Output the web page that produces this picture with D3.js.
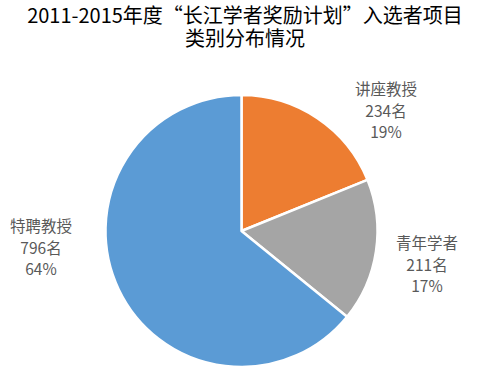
<!DOCTYPE html>
<html lang="zh-CN">
<head>
<meta charset="utf-8">
<script src="https://cdn.jsdelivr.net/npm/d3@7"></script>
<style>
  body { margin: 0; background: #fff; }
  svg { display: block; }
</style>
</head>
<body>
<script>
const titleLines = ['2011-2015年度“长江学者奖励计划”入选者项目', '类别分布情况'];
const categories = ['讲座教授', '青年学者', '特聘教授'];
const counts = [234, 211, 796];
const percents = ['19%', '17%', '64%'];
const colors = ['#ED7D31', '#A5A5A5', '#5B9BD5'];

const width = 489, height = 374;
const cx = 241.5, cy = 231, radius = 136;

// where each data label sits (centre of the 3-line block)
const labelPos = { '讲座教授': [386, 111], '青年学者': [427, 265], '特聘教授': [41, 248] };

const svg = d3.select('body')
  .append('svg')
  .attr('width', width)
  .attr('height', height);

svg.selectAll('.title')
  .data(titleLines)
  .enter()
  .append('text')
  .attr('class', 'title')
  .attr('x', 245)
  .attr('y', (d, i) => 23 + i * 22.5)
  .attr('text-anchor', 'middle')
  .style('font-family', '"Noto Sans CJK SC", sans-serif')
  .style('font-size', '20px')
  .style('fill', '#000')
  .text(d => d);

const data = categories.map((c, i) => ({ name: c, value: counts[i], pct: percents[i], color: colors[i] }));

const pie = d3.pie()
  .sort(null)
  .value(d => d.value);

const arc = d3.arc()
  .innerRadius(0)
  .outerRadius(radius);

const g = svg.append('g')
  .attr('transform', `translate(${cx},${cy})`);

g.selectAll('path')
  .data(pie(data))
  .enter()
  .append('path')
  .attr('d', arc)
  .attr('fill', d => d.data.color)
  .attr('stroke', '#fff')
  .attr('stroke-width', 2.5)
  .attr('stroke-linejoin', 'round');

const labels = svg.selectAll('.label')
  .data(data)
  .enter()
  .append('text')
  .attr('class', 'label')
  .attr('text-anchor', 'middle')
  .style('font-family', '"Noto Sans CJK SC", sans-serif')
  .style('font-size', '15.5px')
  .style('fill', '#595959');

labels.each(function(d) {
  const [x, y] = labelPos[d.name];
  const lines = [d.name, d.value + '名', d.pct];
  d3.select(this).selectAll('tspan')
    .data(lines)
    .enter()
    .append('tspan')
    .attr('x', x)
    .attr('y', (l, i) => y + (i - 1) * 21.5 + 5.5)
    .text(l => l);
});
</script>
</body>
</html>
